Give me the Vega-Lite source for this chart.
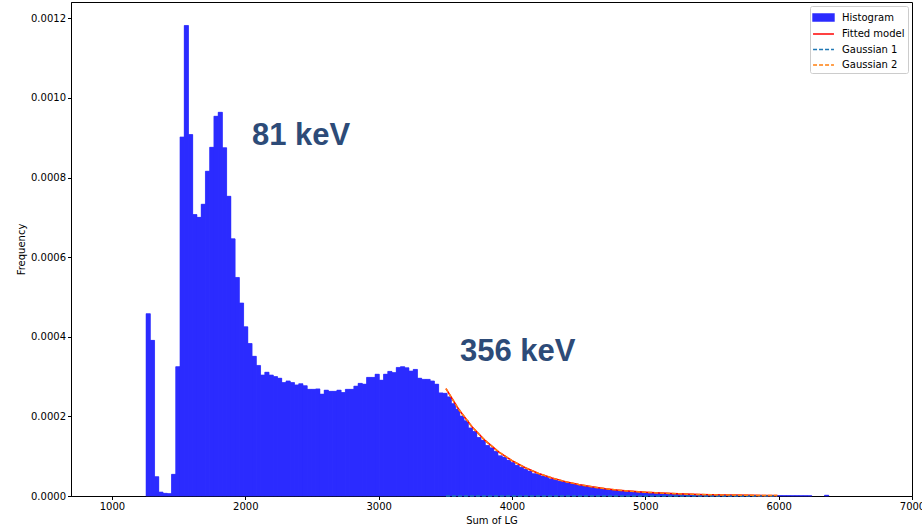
{
  "$schema": "https://vega.github.io/schema/vega-lite/v6.json",
  "autosize": "none",
  "width": 841,
  "height": 494,
  "padding": {"left": 71, "top": 2, "right": 10, "bottom": 34},
  "config": {
    "view": {"stroke": "black", "strokeWidth": 1},
    "axis": {
      "grid": false,
      "domainColor": "black",
      "tickColor": "black",
      "labelColor": "black",
      "titleColor": "black",
      "labelFont": "DejaVu Sans",
      "titleFont": "DejaVu Sans",
      "labelFontSize": 10,
      "titleFontSize": 10,
      "titleFontWeight": "normal",
      "tickSize": 3.5,
      "labelPadding": 2,
      "labelFlush": false
    },
    "legend": {
      "labelFont": "DejaVu Sans",
      "labelFontSize": 10,
      "labelColor": "black"
    }
  },
  "datasets": {
    "hist": [
      {"lo": 1256.0, "hi": 1287.8, "freq": 0.000458, "series": "Histogram"},
      {"lo": 1287.8, "hi": 1319.6, "freq": 0.000391, "series": "Histogram"},
      {"lo": 1319.6, "hi": 1351.4, "freq": 0.0000485, "series": "Histogram"},
      {"lo": 1351.4, "hi": 1383.2, "freq": 0.00001, "series": "Histogram"},
      {"lo": 1383.2, "hi": 1415.0, "freq": 0.0000068, "series": "Histogram"},
      {"lo": 1415.0, "hi": 1446.8, "freq": 0.000006, "series": "Histogram"},
      {"lo": 1446.8, "hi": 1478.6, "freq": 0.0000545, "series": "Histogram"},
      {"lo": 1478.6, "hi": 1510.4, "freq": 0.000325, "series": "Histogram"},
      {"lo": 1510.4, "hi": 1542.2, "freq": 0.000902, "series": "Histogram"},
      {"lo": 1542.2, "hi": 1574.0, "freq": 0.001182, "series": "Histogram"},
      {"lo": 1574.0, "hi": 1605.8, "freq": 0.000908, "series": "Histogram"},
      {"lo": 1605.8, "hi": 1637.6, "freq": 0.000707, "series": "Histogram"},
      {"lo": 1637.6, "hi": 1669.4, "freq": 0.0007, "series": "Histogram"},
      {"lo": 1669.4, "hi": 1701.2, "freq": 0.000733, "series": "Histogram"},
      {"lo": 1701.2, "hi": 1733.0, "freq": 0.000816, "series": "Histogram"},
      {"lo": 1733.0, "hi": 1764.8, "freq": 0.000876, "series": "Histogram"},
      {"lo": 1764.8, "hi": 1796.6, "freq": 0.000954, "series": "Histogram"},
      {"lo": 1796.6, "hi": 1828.4, "freq": 0.000964, "series": "Histogram"},
      {"lo": 1828.4, "hi": 1860.2, "freq": 0.000875, "series": "Histogram"},
      {"lo": 1860.2, "hi": 1892.0, "freq": 0.000753, "series": "Histogram"},
      {"lo": 1892.0, "hi": 1923.8, "freq": 0.000646, "series": "Histogram"},
      {"lo": 1923.8, "hi": 1955.6, "freq": 0.000549, "series": "Histogram"},
      {"lo": 1955.6, "hi": 1987.4, "freq": 0.000485, "series": "Histogram"},
      {"lo": 1987.4, "hi": 2019.2, "freq": 0.000425, "series": "Histogram"},
      {"lo": 2019.2, "hi": 2051.0, "freq": 0.000383, "series": "Histogram"},
      {"lo": 2051.0, "hi": 2082.8, "freq": 0.000351, "series": "Histogram"},
      {"lo": 2082.8, "hi": 2114.6, "freq": 0.000328, "series": "Histogram"},
      {"lo": 2114.6, "hi": 2146.4, "freq": 0.000304, "series": "Histogram"},
      {"lo": 2146.4, "hi": 2178.2, "freq": 0.000311, "series": "Histogram"},
      {"lo": 2178.2, "hi": 2210.0, "freq": 0.000304, "series": "Histogram"},
      {"lo": 2210.0, "hi": 2241.8, "freq": 0.0003, "series": "Histogram"},
      {"lo": 2241.8, "hi": 2273.6, "freq": 0.000296, "series": "Histogram"},
      {"lo": 2273.6, "hi": 2305.4, "freq": 0.000285, "series": "Histogram"},
      {"lo": 2305.4, "hi": 2337.2, "freq": 0.000289, "series": "Histogram"},
      {"lo": 2337.2, "hi": 2369.0, "freq": 0.000285, "series": "Histogram"},
      {"lo": 2369.0, "hi": 2400.8, "freq": 0.000279, "series": "Histogram"},
      {"lo": 2400.8, "hi": 2432.6, "freq": 0.000282, "series": "Histogram"},
      {"lo": 2432.6, "hi": 2464.4, "freq": 0.000277, "series": "Histogram"},
      {"lo": 2464.4, "hi": 2496.2, "freq": 0.000268, "series": "Histogram"},
      {"lo": 2496.2, "hi": 2528.0, "freq": 0.000268, "series": "Histogram"},
      {"lo": 2528.0, "hi": 2559.8, "freq": 0.000269, "series": "Histogram"},
      {"lo": 2559.8, "hi": 2591.6, "freq": 0.000256, "series": "Histogram"},
      {"lo": 2591.6, "hi": 2623.4, "freq": 0.000266, "series": "Histogram"},
      {"lo": 2623.4, "hi": 2655.2, "freq": 0.000263, "series": "Histogram"},
      {"lo": 2655.2, "hi": 2687.0, "freq": 0.000263, "series": "Histogram"},
      {"lo": 2687.0, "hi": 2718.8, "freq": 0.000266, "series": "Histogram"},
      {"lo": 2718.8, "hi": 2750.6, "freq": 0.00026, "series": "Histogram"},
      {"lo": 2750.6, "hi": 2782.4, "freq": 0.000268, "series": "Histogram"},
      {"lo": 2782.4, "hi": 2814.2, "freq": 0.000268, "series": "Histogram"},
      {"lo": 2814.2, "hi": 2846.0, "freq": 0.000276, "series": "Histogram"},
      {"lo": 2846.0, "hi": 2877.8, "freq": 0.000283, "series": "Histogram"},
      {"lo": 2877.8, "hi": 2909.6, "freq": 0.000281, "series": "Histogram"},
      {"lo": 2909.6, "hi": 2941.4, "freq": 0.000298, "series": "Histogram"},
      {"lo": 2941.4, "hi": 2973.2, "freq": 0.000298, "series": "Histogram"},
      {"lo": 2973.2, "hi": 3005.0, "freq": 0.000306, "series": "Histogram"},
      {"lo": 3005.0, "hi": 3036.8, "freq": 0.000291, "series": "Histogram"},
      {"lo": 3036.8, "hi": 3068.6, "freq": 0.000306, "series": "Histogram"},
      {"lo": 3068.6, "hi": 3100.4, "freq": 0.000313, "series": "Histogram"},
      {"lo": 3100.4, "hi": 3132.2, "freq": 0.00031, "series": "Histogram"},
      {"lo": 3132.2, "hi": 3164.0, "freq": 0.000323, "series": "Histogram"},
      {"lo": 3164.0, "hi": 3195.8, "freq": 0.000325, "series": "Histogram"},
      {"lo": 3195.8, "hi": 3227.6, "freq": 0.000322, "series": "Histogram"},
      {"lo": 3227.6, "hi": 3259.4, "freq": 0.000314, "series": "Histogram"},
      {"lo": 3259.4, "hi": 3291.2, "freq": 0.000318, "series": "Histogram"},
      {"lo": 3291.2, "hi": 3323.0, "freq": 0.000296, "series": "Histogram"},
      {"lo": 3323.0, "hi": 3354.8, "freq": 0.000293, "series": "Histogram"},
      {"lo": 3354.8, "hi": 3386.6, "freq": 0.000293, "series": "Histogram"},
      {"lo": 3386.6, "hi": 3418.4, "freq": 0.000289, "series": "Histogram"},
      {"lo": 3418.4, "hi": 3450.2, "freq": 0.000281, "series": "Histogram"},
      {"lo": 3450.2, "hi": 3482.0, "freq": 0.000259, "series": "Histogram"},
      {"lo": 3482.0, "hi": 3513.8, "freq": 0.000258, "series": "Histogram"},
      {"lo": 3513.8, "hi": 3545.6, "freq": 0.000249, "series": "Histogram"},
      {"lo": 3545.6, "hi": 3577.4, "freq": 0.000232, "series": "Histogram"},
      {"lo": 3577.4, "hi": 3609.2, "freq": 0.000218, "series": "Histogram"},
      {"lo": 3609.2, "hi": 3641.0, "freq": 0.000201, "series": "Histogram"},
      {"lo": 3641.0, "hi": 3672.8, "freq": 0.000189, "series": "Histogram"},
      {"lo": 3672.8, "hi": 3704.6, "freq": 0.000171, "series": "Histogram"},
      {"lo": 3704.6, "hi": 3736.4, "freq": 0.000162, "series": "Histogram"},
      {"lo": 3736.4, "hi": 3768.2, "freq": 0.000147, "series": "Histogram"},
      {"lo": 3768.2, "hi": 3800.0, "freq": 0.00014, "series": "Histogram"},
      {"lo": 3800.0, "hi": 3831.8, "freq": 0.000127, "series": "Histogram"},
      {"lo": 3831.8, "hi": 3863.6, "freq": 0.000121, "series": "Histogram"},
      {"lo": 3863.6, "hi": 3895.4, "freq": 0.000112, "series": "Histogram"},
      {"lo": 3895.4, "hi": 3927.2, "freq": 0.000101, "series": "Histogram"},
      {"lo": 3927.2, "hi": 3959.0, "freq": 0.0000975, "series": "Histogram"},
      {"lo": 3959.0, "hi": 3990.8, "freq": 0.00009, "series": "Histogram"},
      {"lo": 3990.8, "hi": 4022.6, "freq": 0.000084, "series": "Histogram"},
      {"lo": 4022.6, "hi": 4054.4, "freq": 0.000077, "series": "Histogram"},
      {"lo": 4054.4, "hi": 4086.2, "freq": 0.000072, "series": "Histogram"},
      {"lo": 4086.2, "hi": 4118.0, "freq": 0.0000672, "series": "Histogram"},
      {"lo": 4118.0, "hi": 4149.8, "freq": 0.0000625, "series": "Histogram"},
      {"lo": 4149.8, "hi": 4181.6, "freq": 0.000056, "series": "Histogram"},
      {"lo": 4181.6, "hi": 4213.4, "freq": 0.0000548, "series": "Histogram"},
      {"lo": 4213.4, "hi": 4245.2, "freq": 0.00005, "series": "Histogram"},
      {"lo": 4245.2, "hi": 4277.0, "freq": 0.0000472, "series": "Histogram"},
      {"lo": 4277.0, "hi": 4308.8, "freq": 0.000043, "series": "Histogram"},
      {"lo": 4308.8, "hi": 4340.6, "freq": 0.000041, "series": "Histogram"},
      {"lo": 4340.6, "hi": 4372.4, "freq": 0.0000372, "series": "Histogram"},
      {"lo": 4372.4, "hi": 4404.2, "freq": 0.0000356, "series": "Histogram"},
      {"lo": 4404.2, "hi": 4436.0, "freq": 0.0000325, "series": "Histogram"},
      {"lo": 4436.0, "hi": 4467.8, "freq": 0.0000306, "series": "Histogram"},
      {"lo": 4467.8, "hi": 4499.6, "freq": 0.0000285, "series": "Histogram"},
      {"lo": 4499.6, "hi": 4531.4, "freq": 0.0000262, "series": "Histogram"},
      {"lo": 4531.4, "hi": 4563.2, "freq": 0.000025, "series": "Histogram"},
      {"lo": 4563.2, "hi": 4595.0, "freq": 0.0000228, "series": "Histogram"},
      {"lo": 4595.0, "hi": 4626.8, "freq": 0.0000218, "series": "Histogram"},
      {"lo": 4626.8, "hi": 4658.6, "freq": 0.0000196, "series": "Histogram"},
      {"lo": 4658.6, "hi": 4690.4, "freq": 0.000019, "series": "Histogram"},
      {"lo": 4690.4, "hi": 4722.2, "freq": 0.000017, "series": "Histogram"},
      {"lo": 4722.2, "hi": 4754.0, "freq": 0.0000162, "series": "Histogram"},
      {"lo": 4754.0, "hi": 4785.8, "freq": 0.000015, "series": "Histogram"},
      {"lo": 4785.8, "hi": 4817.6, "freq": 0.0000138, "series": "Histogram"},
      {"lo": 4817.6, "hi": 4849.4, "freq": 0.0000132, "series": "Histogram"},
      {"lo": 4849.4, "hi": 4881.2, "freq": 0.000012, "series": "Histogram"},
      {"lo": 4881.2, "hi": 4913.0, "freq": 0.0000114, "series": "Histogram"},
      {"lo": 4913.0, "hi": 4944.8, "freq": 0.0000104, "series": "Histogram"},
      {"lo": 4944.8, "hi": 4976.6, "freq": 0.0000098, "series": "Histogram"},
      {"lo": 4976.6, "hi": 5008.4, "freq": 0.000009, "series": "Histogram"},
      {"lo": 5008.4, "hi": 5040.2, "freq": 0.0000086, "series": "Histogram"},
      {"lo": 5040.2, "hi": 5072.0, "freq": 0.0000078, "series": "Histogram"},
      {"lo": 5072.0, "hi": 5103.8, "freq": 0.0000074, "series": "Histogram"},
      {"lo": 5103.8, "hi": 5135.6, "freq": 0.0000068, "series": "Histogram"},
      {"lo": 5135.6, "hi": 5167.4, "freq": 0.0000064, "series": "Histogram"},
      {"lo": 5167.4, "hi": 5199.2, "freq": 0.0000059, "series": "Histogram"},
      {"lo": 5199.2, "hi": 5231.0, "freq": 0.0000056, "series": "Histogram"},
      {"lo": 5231.0, "hi": 5262.8, "freq": 0.0000051, "series": "Histogram"},
      {"lo": 5262.8, "hi": 5294.6, "freq": 0.0000048, "series": "Histogram"},
      {"lo": 5294.6, "hi": 5326.4, "freq": 0.0000045, "series": "Histogram"},
      {"lo": 5326.4, "hi": 5358.2, "freq": 0.0000041, "series": "Histogram"},
      {"lo": 5358.2, "hi": 5390.0, "freq": 0.0000039, "series": "Histogram"},
      {"lo": 5390.0, "hi": 5421.8, "freq": 0.0000036, "series": "Histogram"},
      {"lo": 5421.8, "hi": 5453.6, "freq": 0.0000033, "series": "Histogram"},
      {"lo": 5453.6, "hi": 5485.4, "freq": 0.0000031, "series": "Histogram"},
      {"lo": 5485.4, "hi": 5517.2, "freq": 0.0000029, "series": "Histogram"},
      {"lo": 5517.2, "hi": 5549.0, "freq": 0.0000027, "series": "Histogram"},
      {"lo": 5549.0, "hi": 5580.8, "freq": 0.0000025, "series": "Histogram"},
      {"lo": 5580.8, "hi": 5612.6, "freq": 0.0000023, "series": "Histogram"},
      {"lo": 5612.6, "hi": 5644.4, "freq": 0.0000022, "series": "Histogram"},
      {"lo": 5644.4, "hi": 5676.2, "freq": 0.000002, "series": "Histogram"},
      {"lo": 5676.2, "hi": 5708.0, "freq": 0.0000019, "series": "Histogram"},
      {"lo": 5708.0, "hi": 5739.8, "freq": 0.0000018, "series": "Histogram"},
      {"lo": 5739.8, "hi": 5771.6, "freq": 0.0000016, "series": "Histogram"},
      {"lo": 5771.6, "hi": 5803.4, "freq": 0.0000015, "series": "Histogram"},
      {"lo": 5803.4, "hi": 5835.2, "freq": 0.0000014, "series": "Histogram"},
      {"lo": 5835.2, "hi": 5867.0, "freq": 0.0000014, "series": "Histogram"},
      {"lo": 5867.0, "hi": 5898.8, "freq": 0.0000013, "series": "Histogram"},
      {"lo": 5898.8, "hi": 5930.6, "freq": 0.0000012, "series": "Histogram"},
      {"lo": 5930.6, "hi": 5962.4, "freq": 0.0000012, "series": "Histogram"},
      {"lo": 5962.4, "hi": 5994.2, "freq": 0.0000011, "series": "Histogram"},
      {"lo": 5994.2, "hi": 6026.0, "freq": 0.0000011, "series": "Histogram"},
      {"lo": 6026.0, "hi": 6057.8, "freq": 0.000001, "series": "Histogram"},
      {"lo": 6057.8, "hi": 6089.6, "freq": 0.000001, "series": "Histogram"},
      {"lo": 6089.6, "hi": 6121.4, "freq": 0.0000009, "series": "Histogram"},
      {"lo": 6121.4, "hi": 6153.2, "freq": 0.0000009, "series": "Histogram"},
      {"lo": 6153.2, "hi": 6185.0, "freq": 0.0000008, "series": "Histogram"},
      {"lo": 6185.0, "hi": 6216.8, "freq": 0.0000008, "series": "Histogram"},
      {"lo": 6216.8, "hi": 6248.6, "freq": 0.0000007, "series": "Histogram"},
      {"lo": 6344.0, "hi": 6375.8, "freq": 0.000002, "series": "Histogram"}
    ],
    "curves": [
      {"x": 3505, "y": 0.00027, "series": "Fitted model"},
      {"x": 3600, "y": 0.000218, "series": "Fitted model"},
      {"x": 3700, "y": 0.000174, "series": "Fitted model"},
      {"x": 3800, "y": 0.000139, "series": "Fitted model"},
      {"x": 3900, "y": 0.000111, "series": "Fitted model"},
      {"x": 4000, "y": 0.0000888, "series": "Fitted model"},
      {"x": 4100, "y": 0.0000709, "series": "Fitted model"},
      {"x": 4200, "y": 0.0000566, "series": "Fitted model"},
      {"x": 4300, "y": 0.0000452, "series": "Fitted model"},
      {"x": 4400, "y": 0.0000361, "series": "Fitted model"},
      {"x": 4500, "y": 0.0000289, "series": "Fitted model"},
      {"x": 4600, "y": 0.0000231, "series": "Fitted model"},
      {"x": 4700, "y": 0.0000184, "series": "Fitted model"},
      {"x": 4800, "y": 0.0000147, "series": "Fitted model"},
      {"x": 4900, "y": 0.0000117, "series": "Fitted model"},
      {"x": 5000, "y": 0.0000094, "series": "Fitted model"},
      {"x": 5200, "y": 0.000006, "series": "Fitted model"},
      {"x": 5400, "y": 0.0000038, "series": "Fitted model"},
      {"x": 5600, "y": 0.0000024, "series": "Fitted model"},
      {"x": 5800, "y": 0.0000016, "series": "Fitted model"},
      {"x": 5990, "y": 0.000001, "series": "Fitted model"},
      {"x": 3505, "y": 0.0, "series": "Gaussian 1"},
      {"x": 4500, "y": 0.0, "series": "Gaussian 1"},
      {"x": 5990, "y": 0.0, "series": "Gaussian 1"},
      {"x": 3505, "y": 0.00027, "series": "Gaussian 2"},
      {"x": 3600, "y": 0.000218, "series": "Gaussian 2"},
      {"x": 3700, "y": 0.000174, "series": "Gaussian 2"},
      {"x": 3800, "y": 0.000139, "series": "Gaussian 2"},
      {"x": 3900, "y": 0.000111, "series": "Gaussian 2"},
      {"x": 4000, "y": 0.0000888, "series": "Gaussian 2"},
      {"x": 4100, "y": 0.0000709, "series": "Gaussian 2"},
      {"x": 4200, "y": 0.0000566, "series": "Gaussian 2"},
      {"x": 4300, "y": 0.0000452, "series": "Gaussian 2"},
      {"x": 4400, "y": 0.0000361, "series": "Gaussian 2"},
      {"x": 4500, "y": 0.0000289, "series": "Gaussian 2"},
      {"x": 4600, "y": 0.0000231, "series": "Gaussian 2"},
      {"x": 4700, "y": 0.0000184, "series": "Gaussian 2"},
      {"x": 4800, "y": 0.0000147, "series": "Gaussian 2"},
      {"x": 4900, "y": 0.0000117, "series": "Gaussian 2"},
      {"x": 5000, "y": 0.0000094, "series": "Gaussian 2"},
      {"x": 5200, "y": 0.000006, "series": "Gaussian 2"},
      {"x": 5400, "y": 0.0000038, "series": "Gaussian 2"},
      {"x": 5600, "y": 0.0000024, "series": "Gaussian 2"},
      {"x": 5800, "y": 0.0000016, "series": "Gaussian 2"},
      {"x": 5990, "y": 0.000001, "series": "Gaussian 2"}
    ],
    "labels": [
      {"x": 2050, "y": 0.000905, "text": "81 keV"},
      {"x": 3610, "y": 0.000362, "text": "356 keV"}
    ]
  },
  "layer": [
    {
      "data": {"name": "hist"},
      "mark": {"type": "rect", "color": "#2B2BFF", "stroke": "#2B2BFF", "strokeWidth": 0.6},
      "encoding": {
        "x": {
          "field": "lo", "type": "quantitative",
          "scale": {"domain": [693, 7000], "nice": false, "zero": false},
          "axis": {"title": "Sum of LG", "values": [1000, 2000, 3000, 4000, 5000, 6000, 7000], "format": "d"}
        },
        "x2": {"field": "hi"},
        "y": {
          "field": "freq", "type": "quantitative",
          "scale": {"domain": [0, 0.001241], "nice": false},
          "axis": {"title": "Frequency", "values": [0, 0.0002, 0.0004, 0.0006, 0.0008, 0.001, 0.0012], "format": ".4f"}
        }
      }
    },
    {
      "data": {"name": "hist"},
      "mark": {"type": "rect"},
      "encoding": {
        "x": {"field": "lo", "type": "quantitative"},
        "x2": {"field": "hi"},
        "y": {"field": "freq", "type": "quantitative"},
        "color": {
          "field": "series", "type": "nominal",
          "scale": {
            "domain": ["Histogram", "Fitted model", "Gaussian 1", "Gaussian 2"],
            "range": ["#2B2BFF", "#FF0000", "#1F77B4", "#FF7F0E"]
          },
          "legend": {
            "title": null,
            "orient": "top-right",
            "offset": 4,
            "padding": 3,
            "strokeColor": "#cccccc",
            "fillColor": "white",
            "cornerRadius": 2,
            "symbolSize": 240,
            "symbolOffset": 2,
            "labelOffset": 10,
            "rowPadding": 1.5,
            "encode": {
              "symbols": {
                "update": {
                  "shape": [{"test": "datum.value === 'Histogram'", "value": "M-1.35,-0.45H1.35V0.45H-1.35Z"}, {"value": "M-1.35,0H1.35"}],
                  "fill": [{"test": "datum.value === 'Histogram'", "value": "#6666FF"}, {"value": "transparent"}],
                  "stroke": [{"test": "datum.value === 'Histogram'", "value": "transparent"}, {"scale": "color", "field": "value"}],
                  "strokeDash": [{"test": "datum.value === 'Gaussian 1' || datum.value === 'Gaussian 2'", "value": [4, 2]}, {"value": [1, 0]}],
                  "strokeWidth": {"value": 1.5},
                  "opacity": {"value": 1}
                }
              }
            }
          }
        }
      }
    },
    {
      "data": {"name": "curves"},
      "transform": [{"filter": "datum.series === 'Fitted model'"}],
      "mark": {"type": "line", "strokeWidth": 1.5},
      "encoding": {
        "x": {"field": "x", "type": "quantitative"},
        "y": {"field": "y", "type": "quantitative"},
        "color": {"field": "series", "type": "nominal"}
      }
    },
    {
      "data": {"name": "curves"},
      "transform": [{"filter": "datum.series !== 'Fitted model'"}],
      "mark": {"type": "line", "strokeWidth": 1.5, "strokeDash": [4, 2]},
      "encoding": {
        "x": {"field": "x", "type": "quantitative"},
        "y": {"field": "y", "type": "quantitative"},
        "color": {"field": "series", "type": "nominal"}
      }
    },
    {
      "data": {"name": "labels"},
      "mark": {"type": "text", "align": "left", "baseline": "middle", "font": "Liberation Sans", "fontWeight": "bold", "fontSize": 31, "color": "#2D4B78"},
      "encoding": {
        "x": {"field": "x", "type": "quantitative"},
        "y": {"field": "y", "type": "quantitative"},
        "text": {"field": "text"}
      }
    }
  ]
}
